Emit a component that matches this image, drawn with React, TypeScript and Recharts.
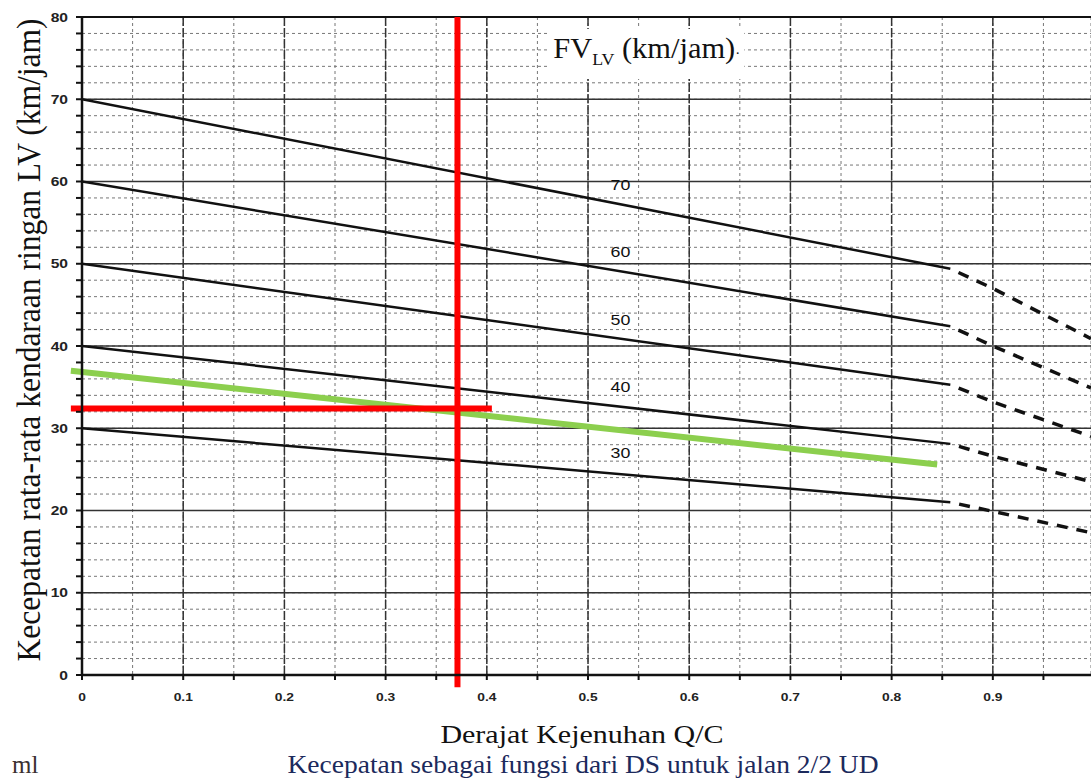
import { LineChart, Line, XAxis, YAxis, CartesianGrid, ReferenceLine, ReferenceDot } from 'recharts';

// axis ticks
const X_TICKS = [0, 0.05, 0.1, 0.15, 0.2, 0.25, 0.3, 0.35, 0.4, 0.45, 0.5, 0.55, 0.6, 0.65, 0.7, 0.75, 0.8, 0.85, 0.9, 0.95];
const Y_TICKS = [0, 2, 4, 6, 8, 10, 12, 14, 16, 18, 20, 22, 24, 26, 28, 30, 32, 34, 36, 38, 40, 42, 44, 46, 48, 50, 52, 54, 56, 58, 60, 62, 64, 66, 68, 70, 72, 74, 76, 78, 80];
const X_MAJOR = [0.1, 0.2, 0.3, 0.4, 0.5, 0.6, 0.7, 0.8, 0.9];
const Y_MAJOR = [10, 20, 30, 40, 50, 60, 70];

// free-flow speed curves (solid part + dashed extension)
const FV70 = [{ x: 0, y: 70 }, { x: 0.858, y: 49.4 }];
const FV70_DASH = [{ x: 0.858, y: 49.4 }, { x: 0.9, y: 47.0 }, { x: 0.997, y: 40.9 }];
const FV60 = [{ x: 0, y: 60 }, { x: 0.858, y: 42.4 }];
const FV60_DASH = [{ x: 0.858, y: 42.4 }, { x: 0.9, y: 40.0 }, { x: 0.997, y: 34.9 }];
const FV50 = [{ x: 0, y: 50 }, { x: 0.858, y: 35.3 }];
const FV50_DASH = [{ x: 0.858, y: 35.3 }, { x: 0.9, y: 33.2 }, { x: 0.997, y: 29.0 }];
const FV40 = [{ x: 0, y: 40 }, { x: 0.858, y: 28.1 }];
const FV40_DASH = [{ x: 0.858, y: 28.1 }, { x: 0.9, y: 26.6 }, { x: 0.997, y: 23.5 }];
const FV30 = [{ x: 0, y: 30 }, { x: 0.858, y: 21.0 }];
const FV30_DASH = [{ x: 0.858, y: 21.0 }, { x: 0.9, y: 19.9 }, { x: 0.997, y: 17.3 }];

const SOLID = [FV70, FV60, FV50, FV40, FV30];
const DASHED = [FV70_DASH, FV60_DASH, FV50_DASH, FV40_DASH, FV30_DASH];

// curve labels
const CURVE_LABELS = ['70', '60', '50', '40', '30'];
const CURVE_LABEL_Y = [59.6, 51.5, 43.2, 35.1, 27.1];
const CURVE_LABEL_X = 0.532;

// hand drawn annotations
const GREEN_LINE = [{ x: -0.011, y: 37.0 }, { x: 0.845, y: 25.6 }];
const RED_H = [{ x: -0.011, y: 32.4 }, { x: 0.405, y: 32.4 }];
const RED_V = [{ x: 0.371, y: 80 }, { x: 0.371, y: -1.5 }];

const serif = '"Liberation Serif", "Times New Roman", serif';
const sans = '"Liberation Sans", Arial, sans-serif';

const XTick = ({ x, y, payload }: any) => {
  const v = payload.value;
  if (Math.round(v * 100) % 10 !== 0) return null;
  return (
    <text transform={`translate(${x},${y + 19}) scale(1.2,1)`} textAnchor="middle" fontSize={11.5} fontWeight={700} fill="#222" fontFamily={sans}>
      {String(Math.round(v * 10) / 10)}
    </text>
  );
};

const YTick = ({ x, y, payload }: any) => {
  const v = payload.value;
  if (v % 10 !== 0) return null;
  return (
    <text transform={`translate(${x - 6},${y + 4.5}) scale(1.25,1)`} textAnchor="end" fontSize={12.5} fontWeight={700} fill="#222" fontFamily={sans}>
      {String(v)}
    </text>
  );
};

const CurveLabel = (t: string) => (props: any) => {
  const vb = props.viewBox || {};
  return (
    <text transform={`translate(${vb.x},${vb.y + 5.5}) scale(1.15,1)`} textAnchor="middle" fontSize={15.5} fill="#111" fontFamily={sans}>
      {t}
    </text>
  );
};

const App = () => {
  return (
    <div style={{ position: 'absolute', left: 0, top: 0, width: 1091, height: 780, background: '#fff', overflow: 'hidden' }}>
      <LineChart width={1091} height={780} margin={{ top: 17, right: 0, left: 52, bottom: 75 }}>
        <CartesianGrid stroke="#777" strokeDasharray="3 3" strokeWidth={1} />
        <XAxis
          type="number"
          dataKey="x"
          domain={[0, 0.997]}
          allowDataOverflow
          ticks={X_TICKS}
          interval={0}
          height={30}
          tick={<XTick />}
          tickSize={5}
          axisLine={{ stroke: '#111', strokeWidth: 2.5 }}
          tickLine={{ stroke: '#111', strokeWidth: 2 }}
        />
        <YAxis
          type="number"
          domain={[0, 80]}
          allowDataOverflow
          ticks={Y_TICKS}
          interval={0}
          width={30}
          tick={<YTick />}
          tickSize={6}
          axisLine={{ stroke: '#111', strokeWidth: 2.5 }}
          tickLine={{ stroke: '#111', strokeWidth: 2 }}
        />
        {Y_MAJOR.map((v) => (
          <ReferenceLine key={`ym-${v}`} y={v} stroke="#333" strokeWidth={1.5} />
        ))}
        {X_MAJOR.map((v) => (
          <ReferenceLine key={`xm-${v}`} x={v} stroke="#333" strokeWidth={1.5} strokeDasharray="9 2" />
        ))}
        <ReferenceLine y={80} stroke="#111" strokeWidth={2} />
        {SOLID.map((d, i) => (
          <Line key={`s-${i}`} data={d} dataKey="y" type="linear" stroke="#111" strokeWidth={2.5} dot={false} isAnimationActive={false} />
        ))}
        {DASHED.map((d, i) => (
          <Line key={`d-${i}`} data={d} dataKey="y" type="linear" stroke="#111" strokeWidth={3.5} strokeDasharray="11 9" strokeDashoffset={11} dot={false} isAnimationActive={false} />
        ))}
        {CURVE_LABELS.map((t, i) => (
          <ReferenceDot
            key={`lab-${t}`}
            x={CURVE_LABEL_X}
            y={CURVE_LABEL_Y[i]}
            r={0}
            stroke="none"
            label={CurveLabel(t)}
          />
        ))}
        <ReferenceLine segment={GREEN_LINE} stroke="#8ccf4e" strokeWidth={6} ifOverflow="visible" />
        <ReferenceLine segment={RED_H} stroke="#ff0000" strokeWidth={6} ifOverflow="visible" />
        <ReferenceLine segment={RED_V} stroke="#ff0000" strokeWidth={6} ifOverflow="visible" />
      </LineChart>

      <div
        style={{
          position: 'absolute',
          left: 549,
          top: 29,
          padding: '0 4px',
          background: '#fff',
          fontFamily: serif,
          fontSize: 29,
          color: '#111',
          whiteSpace: 'nowrap',
          lineHeight: '38px',
          transform: 'scaleX(1.05)',
          transformOrigin: 'left center',
        }}
      >
        FV<sub style={{ fontSize: 17 }}>LV</sub> (km/jam)<span style={{ fontSize: 14 }}>·</span>
      </div>

      <div
        style={{
          position: 'absolute',
          left: 29,
          top: 340,
          transform: 'translate(-50%, -50%) rotate(-90deg) scaleY(1.1)',
          fontFamily: serif,
          fontSize: 31.5,
          color: '#111',
          whiteSpace: 'nowrap',
        }}
      >
        Kecepatan rata-rata kendaraan ringan LV (km/jam)
      </div>

      <div
        style={{
          position: 'absolute',
          left: 582,
          top: 735,
          transform: 'translate(-50%, -50%) scaleX(1.2)',
          fontFamily: serif,
          fontSize: 25,
          color: '#111',
          whiteSpace: 'nowrap',
        }}
      >
        Derajat Kejenuhan Q/C
      </div>

      <div
        style={{
          position: 'absolute',
          left: 583,
          top: 765,
          transform: 'translate(-50%, -50%) scaleX(1.1)',
          fontFamily: serif,
          fontSize: 25,
          color: '#1c2a5c',
          whiteSpace: 'nowrap',
        }}
      >
        Kecepatan sebagai fungsi dari DS untuk jalan 2/2 UD
      </div>

      <div
        style={{
          position: 'absolute',
          left: 12,
          top: 765,
          transform: 'translateY(-50%)',
          fontFamily: serif,
          fontSize: 25,
          color: '#3a3030',
          whiteSpace: 'nowrap',
        }}
      >
        ml
      </div>
    </div>
  );
};

export default App;
